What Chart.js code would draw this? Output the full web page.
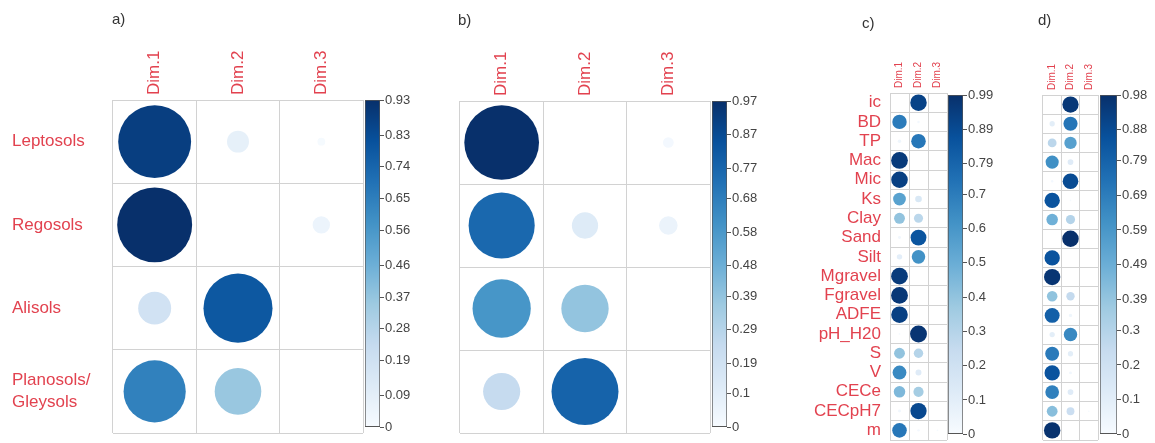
<!DOCTYPE html>
<html>
<head>
<meta charset="utf-8">
<script src="https://cdn.jsdelivr.net/npm/chart.js@4.4.1/dist/chart.umd.min.js"></script>
<style>
  body { margin: 0; background: #fff; width: 1155px; height: 443px; position: relative; overflow: hidden; }
  canvas { position: absolute; }
</style>
</head>
<body>
<canvas id="bubA" width="366" height="436" style="left:0;top:0"></canvas>
<canvas id="barA" width="55" height="346" style="left:365px;top:90px"></canvas>
<canvas id="bubB" width="273" height="436" style="left:440px;top:0"></canvas>
<canvas id="barB" width="57" height="345" style="left:712px;top:91px"></canvas>
<canvas id="bubC" width="140" height="443" style="left:810px;top:0"></canvas>
<canvas id="barC" width="60" height="358" style="left:948px;top:85px"></canvas>
<canvas id="bubD" width="81" height="443" style="left:1020px;top:0"></canvas>
<canvas id="barD" width="55" height="358" style="left:1100px;top:85px"></canvas>
<script>
const dims = ['Dim.1', 'Dim.2', 'Dim.3'];
const soilGroups = ['Leptosols', 'Regosols', 'Alisols', 'Planosols/Gleysols'];
const soilVars = ['ic', 'BD', 'TP', 'Mac', 'Mic', 'Ks', 'Clay', 'Sand', 'Silt', 'Mgravel',
  'Fgravel', 'ADFE', 'pH_H20', 'S', 'V', 'CECe', 'CECpH7', 'm'];

// a) soil groups
const aDim1 = [0.88, 0.93, 0.18, 0.64];
const aDim2 = [0.08, 0.00, 0.79, 0.36];
const aDim3 = [0.01, 0.05, 0.00, 0.00];
const aTicks = ['0', '0.09', '0.19', '0.28', '0.37', '0.46', '0.56', '0.65', '0.74', '0.83', '0.93'];

// b) soil groups
const bDim1 = [0.97, 0.76, 0.59, 0.24];
const bDim2 = [0.00, 0.12, 0.39, 0.78];
const bDim3 = [0.02, 0.06, 0.00, 0.00];
const bTicks = ['0', '0.1', '0.19', '0.29', '0.39', '0.48', '0.58', '0.68', '0.77', '0.87', '0.97'];

// c) soil variables
const cDim1 = [0.00, 0.70, 0.04, 0.95, 0.93, 0.55, 0.40, 0.03, 0.10, 0.95, 0.96, 0.93, 0.01, 0.40, 0.65, 0.45, 0.03, 0.72];
const cDim2 = [0.92, 0.02, 0.72, 0.00, 0.00, 0.15, 0.28, 0.85, 0.62, 0.00, 0.00, 0.00, 0.97, 0.30, 0.12, 0.35, 0.90, 0.02];
const cDim3 = [0.00, 0.00, 0.00, 0.00, 0.00, 0.00, 0.00, 0.00, 0.00, 0.00, 0.00, 0.00, 0.00, 0.00, 0.00, 0.00, 0.00, 0.01];
const cTicks = ['0', '0.1', '0.2', '0.3', '0.4', '0.5', '0.6', '0.7', '0.79', '0.89', '0.99'];

// d) soil variables
const dDim1 = [0.00, 0.10, 0.28, 0.62, 0.02, 0.85, 0.48, 0.00, 0.85, 0.96, 0.40, 0.80, 0.10, 0.70, 0.85, 0.68, 0.42, 0.97];
const dDim2 = [0.95, 0.72, 0.55, 0.12, 0.88, 0.01, 0.30, 0.98, 0.00, 0.00, 0.25, 0.04, 0.65, 0.10, 0.03, 0.12, 0.22, 0.00];
const dDim3 = [0.00, 0.00, 0.00, 0.00, 0.00, 0.00, 0.00, 0.00, 0.00, 0.00, 0.00, 0.00, 0.00, 0.00, 0.00, 0.00, 0.01, 0.00];
const dTicks = ['0', '0.1', '0.2', '0.3', '0.39', '0.49', '0.59', '0.69', '0.79', '0.88', '0.98'];

const blues = ['#F7FBFF', '#DEEBF7', '#C6DBEF', '#9ECAE1', '#6BAED6', '#4292C6', '#2171B5', '#08519C', '#08306B'];
const labelRed = '#e2424f';
const gridGrey = '#d2d2d2';

Chart.defaults.font.family = '"Liberation Sans", Arial, sans-serif';

function hexRgb(h) {
  return [1, 3, 5].map(i => parseInt(h.slice(i, i + 2), 16));
}

function blueAt(t) {
  t = Math.max(0, Math.min(1, t));
  const pos = t * (blues.length - 1);
  const i = Math.min(Math.floor(pos), blues.length - 2);
  const f = pos - i;
  const a = hexRgb(blues[i]), b = hexRgb(blues[i + 1]);
  const c = a.map((v, k) => Math.round(v + (b[k] - v) * f));
  return `rgb(${c[0]},${c[1]},${c[2]})`;
}

function barGradient(chart) {
  const area = chart.chartArea;
  if (!area) return blues[4];
  const g = chart.ctx.createLinearGradient(0, area.bottom, 0, area.top);
  blues.forEach((c, i) => g.addColorStop(i / (blues.length - 1), c));
  return g;
}

const panelTag = {
  id: 'panelTag',
  afterDraw(chart, args, opts) {
    if (!opts.text) return;
    const ctx = chart.ctx;
    ctx.save();
    ctx.font = '15px "Liberation Sans", Arial, sans-serif';
    ctx.fillStyle = '#333';
    ctx.textBaseline = 'middle';
    ctx.fillText(opts.text, chart.chartArea.left + opts.dx, opts.y);
    ctx.restore();
  }
};
Chart.register(panelTag);

function corrPanel(id, rows, cols, tickLabels, geo) {
  const vmax = Number(tickLabels[tickLabels.length - 1]);
  const areaW = geo.w - geo.yAxisW - geo.padLeft - 3;
  const areaH = geo.h - geo.xAxisH - 3;
  const cell = Math.min(areaW / cols.length, areaH / rows.length);
  const points = [];
  cols.forEach((col, j) => col.forEach((v, i) => {
    points.push({ x: dims[j], y: rows[i], v: v, r: 0.45 * cell * Math.sqrt(v / vmax) });
  }));

  return new Chart(document.getElementById(id), {
    type: 'bubble',
    data: {
      datasets: [{
        data: points,
        backgroundColor: c => blueAt(c.raw.v / vmax),
        borderWidth: 0,
        hoverBorderWidth: 0
      }]
    },
    options: {
      responsive: false,
      animation: false,
      events: [],
      layout: { autoPadding: false, padding: { left: geo.padLeft, top: 0, right: 3, bottom: 3 } },
      plugins: {
        legend: { display: false },
        tooltip: { enabled: false },
        panelTag: { text: geo.tag, dx: geo.tagDx, y: geo.tagY }
      },
      scales: {
        x: {
          type: 'category',
          labels: dims,
          position: 'top',
          offset: true,
          grid: { offset: true, color: gridGrey, drawTicks: false },
          border: { display: false },
          ticks: {
            color: labelRed,
            font: { size: geo.dimFont },
            minRotation: 90,
            maxRotation: 90,
            autoSkip: false,
            labelOffset: geo.dimFont * 1.2,
            padding: 5
          },
          afterFit: s => {
            s.height = geo.xAxisH;
            s.paddingLeft = 0;
            s.paddingRight = 0;
          }
        },
        y: {
          type: 'category',
          labels: rows,
          offset: true,
          grid: { offset: true, color: gridGrey, drawTicks: false },
          border: { display: false },
          ticks: {
            display: geo.showRows,
            color: labelRed,
            font: { size: geo.rowFont, lineHeight: 1.3 },
            crossAlign: geo.rowAlign,
            autoSkip: false,
            padding: geo.rowPad,
            callback: function (value) {
              return this.getLabelForValue(value).split(/(?<=\/)/);
            }
          },
          afterFit: s => {
            s.width = geo.yAxisW;
            s.paddingTop = 0;
            s.paddingBottom = 0;
          }
        }
      }
    }
  });
}

function colorBar(id, tickLabels, axisW) {
  const tickVals = tickLabels.map(Number);
  const vmax = tickVals[tickVals.length - 1];
  return new Chart(document.getElementById(id), {
    type: 'bar',
    data: {
      labels: [''],
      datasets: [{
        data: [vmax],
        backgroundColor: c => barGradient(c.chart),
        borderColor: '#555',
        borderWidth: 1,
        borderSkipped: false,
        barPercentage: 1,
        categoryPercentage: 1
      }]
    },
    options: {
      responsive: false,
      animation: false,
      events: [],
      layout: { padding: { left: 0, top: 10, right: 0, bottom: 3 } },
      plugins: { legend: { display: false }, tooltip: { enabled: false } },
      scales: {
        x: { display: false },
        y: {
          position: 'right',
          min: 0,
          max: vmax,
          afterBuildTicks: s => { s.ticks = tickVals.map(v => ({ value: v })); },
          ticks: {
            callback: (v, i) => tickLabels[i],
            color: '#444',
            font: { size: 13 },
            padding: 1,
            autoSkip: false
          },
          grid: { drawOnChartArea: false, color: '#555', tickLength: 4 },
          border: { display: false },
          afterFit: s => { s.width = axisW; }
        }
      }
    }
  });
}

corrPanel('bubA', soilGroups, [aDim1, aDim2, aDim3], aTicks, {
  w: 366, h: 436, padLeft: 12, yAxisW: 101, xAxisH: 100, showRows: true, rowAlign: 'far', rowPad: 8,
  rowFont: 17, dimFont: 17, tag: 'a)', tagDx: -1, tagY: 20
});
colorBar('barA', aTicks, 40);

corrPanel('bubB', soilGroups, [bDim1, bDim2, bDim3], bTicks, {
  w: 273, h: 436, padLeft: 0, yAxisW: 20, xAxisH: 101, showRows: false, rowAlign: 'near', rowPad: 0,
  rowFont: 17, dimFont: 17, tag: 'b)', tagDx: -2, tagY: 21
});
colorBar('barB', bTicks, 42);

corrPanel('bubC', soilVars, [cDim1, cDim2, cDim3], cTicks, {
  w: 140, h: 443, padLeft: 0, yAxisW: 80, xAxisH: 93, showRows: true, rowAlign: 'near', rowPad: 9,
  rowFont: 17, dimFont: 10, tag: 'c)', tagDx: -28, tagY: 24
});
colorBar('barC', cTicks, 45);

corrPanel('bubD', soilVars, [dDim1, dDim2, dDim3], dTicks, {
  w: 81, h: 443, padLeft: 0, yAxisW: 23, xAxisH: 95, showRows: false, rowAlign: 'near', rowPad: 0,
  rowFont: 17, dimFont: 10, tag: 'd)', tagDx: -5, tagY: 21
});
colorBar('barD', dTicks, 38);
</script>
</body>
</html>
